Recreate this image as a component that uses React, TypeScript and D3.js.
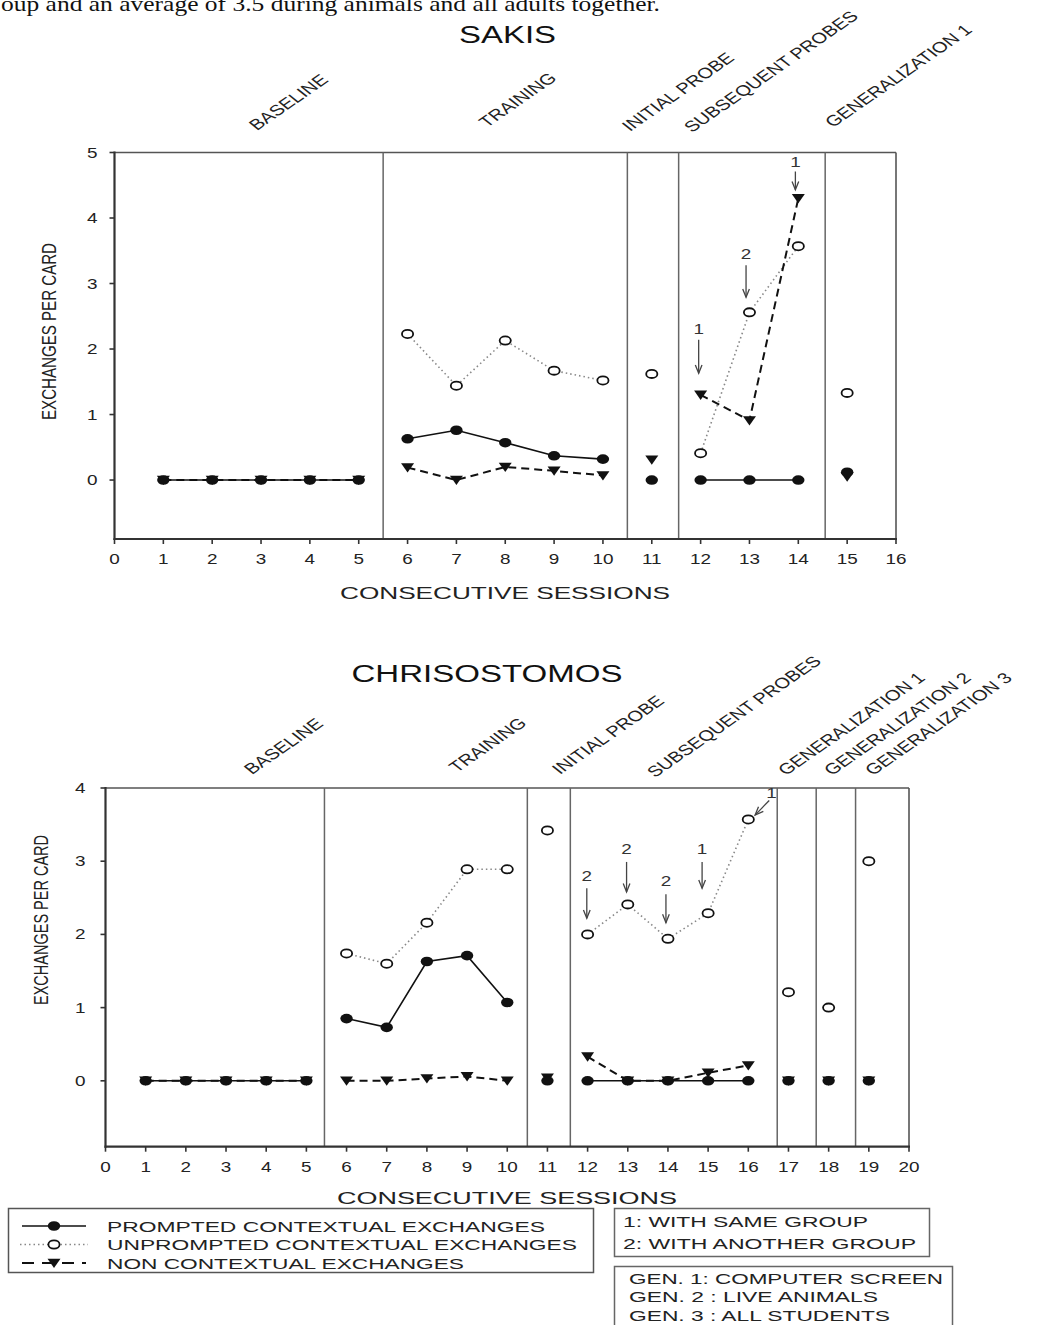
import React from "react";
import * as d3 from "d3";

// ---------- DATA ----------
const introLine = "oup and an average of 3.5 during animals and all adults together.";

const sakisTitle = "SAKIS";
const sakisSessions = [1, 2, 3, 4, 5, 6, 7, 8, 9, 10, 11, 12, 13, 14, 15];
const sakisPrompted = [0, 0, 0, 0, 0, 0.63, 0.76, 0.57, 0.37, 0.32, 0, 0, 0, 0, 0.12];
const sakisUnprompted = [null, null, null, null, null, 2.23, 1.44, 2.13, 1.67, 1.52, 1.62, 0.41, 2.56, 3.57, 1.33];
const sakisNonContextual = [0, 0, 0, 0, 0, 0.19, 0, 0.2, 0.14, 0.07, 0.31, 1.3, 0.91, 4.3, 0.05];
const sakisPhaseNames = ["BASELINE", "TRAINING", "INITIAL PROBE", "SUBSEQUENT PROBES", "GENERALIZATION 1"];
const sakisPhaseRanges = [[1, 5], [6, 10], [11, 11], [12, 14], [15, 15]];
const sakisPhaseBreaks = [5.5, 10.5, 11.55, 14.55];
const sakisXTicks = [0, 1, 2, 3, 4, 5, 6, 7, 8, 9, 10, 11, 12, 13, 14, 15, 16];
const sakisYTicks = [0, 1, 2, 3, 4, 5];
const sakisArrows = [
  { label: "1", tipS: 11.96, tipV: 1.63, tailS: 11.96, tailV: 2.14, labelS: 11.96, labelV: 2.3 },
  { label: "2", tipS: 12.93, tipV: 2.79, tailS: 12.93, tailV: 3.28, labelS: 12.93, labelV: 3.45 },
  { label: "1", tipS: 13.94, tipV: 4.43, tailS: 13.94, tailV: 4.71, labelS: 13.94, labelV: 4.86 },
];

const chrisTitle = "CHRISOSTOMOS";
const chrisSessions = [1, 2, 3, 4, 5, 6, 7, 8, 9, 10, 11, 12, 13, 14, 15, 16, 17, 18, 19];
const chrisPrompted = [0, 0, 0, 0, 0, 0.85, 0.73, 1.63, 1.71, 1.07, 0, 0, 0, 0, 0, 0, 0, 0, 0];
const chrisUnprompted = [null, null, null, null, null, 1.74, 1.6, 2.16, 2.89, 2.89, 3.42, 2.0, 2.41, 1.94, 2.29, 3.57, 1.21, 1.0, 3.0];
const chrisNonContextual = [0, 0, 0, 0, 0, 0, 0, 0.03, 0.06, 0, 0.04, 0.33, 0, 0, 0.11, 0.21, 0, 0, 0];
const chrisPhaseNames = ["BASELINE", "TRAINING", "INITIAL PROBE", "SUBSEQUENT PROBES", "GENERALIZATION 1", "GENERALIZATION 2", "GENERALIZATION 3"];
const chrisPhaseRanges = [[1, 5], [6, 10], [11, 11], [12, 16], [17, 17], [18, 18], [19, 19]];
const chrisPhaseBreaks = [5.45, 10.5, 11.57, 16.72, 17.69, 18.67];
const chrisXTicks = [0, 1, 2, 3, 4, 5, 6, 7, 8, 9, 10, 11, 12, 13, 14, 15, 16, 17, 18, 19, 20];
const chrisYTicks = [0, 1, 2, 3, 4];
const chrisArrows = [
  { label: "2", tipS: 11.98, tipV: 2.22, tailS: 11.98, tailV: 2.63, labelS: 11.98, labelV: 2.8 },
  { label: "2", tipS: 12.97, tipV: 2.58, tailS: 12.97, tailV: 2.99, labelS: 12.97, labelV: 3.17 },
  { label: "2", tipS: 13.95, tipV: 2.16, tailS: 13.95, tailV: 2.55, labelS: 13.95, labelV: 2.73 },
  { label: "1", tipS: 14.85, tipV: 2.63, tailS: 14.85, tailV: 2.99, labelS: 14.85, labelV: 3.17 },
  { label: "1", tipS: 16.17, tipV: 3.63, tailS: 16.52, tailV: 3.83, labelS: 16.58, labelV: 3.93 },
];

const xAxisTitle = "CONSECUTIVE SESSIONS";
const yAxisTitle = "EXCHANGES PER CARD";
const seriesLegend = ["PROMPTED CONTEXTUAL EXCHANGES", "UNPROMPTED CONTEXTUAL EXCHANGES", "NON CONTEXTUAL EXCHANGES"];
const arrowLegend = ["1: WITH SAME GROUP", "2: WITH ANOTHER GROUP"];
const genLegend = ["GEN. 1: COMPUTER SCREEN", "GEN. 2 : LIVE ANIMALS", "GEN. 3 : ALL STUDENTS"];

// ---------- LAYOUT ----------
const FONT = "'Liberation Sans', Arial, sans-serif";
const SX = 1.35;
const INK = "#111";

const sakisLayout = {
  xRange: [114.5, 896], yRange: [539, 152.5], yDomain: [-0.9, 5], xDomain: [0, 16],
  titleX: 507.5, titleY: 43, titleW: 97,
  phaseLabelPos: [[257, 131], [487, 128], [630, 132], [692, 133], [833, 128]],
  xTitle: [505, 599, 330], yTitle: [56, 331.5, 177], yTickGap: 17,
};
const chrisLayout = {
  xRange: [105.5, 909], yRange: [1146.7, 788], yDomain: [-0.9, 4], xDomain: [0, 20],
  titleX: 487, titleY: 682, titleW: 271,
  phaseLabelPos: [[252, 775], [457, 773], [560, 775], [655, 778], [786, 776], [832, 776], [873, 776]],
  xTitle: [507, 1203.5, 340], yTitle: [48, 920, 170], yTickGap: 20,
};

function STxt({ x, y, size, anchor = "middle", sx = SX, rot = 0, children, fill = INK }: any) {
  return (
    <text
      transform={`translate(${x},${y}) scale(${sx},1) rotate(${rot})`}
      textAnchor={anchor}
      fontSize={size}
      fontFamily={FONT}
      fill={fill}
    >
      {children}
    </text>
  );
}

function FilledCircle({ cx, cy }: any) {
  return <ellipse cx={cx} cy={cy} rx={6.2} ry={4.8} fill={INK} />;
}
function OpenCircle({ cx, cy }: any) {
  return <ellipse cx={cx} cy={cy} rx={5.6} ry={4.1} fill="#fff" stroke={INK} strokeWidth={1.8} />;
}
function TriDown({ cx, cy }: any) {
  return <path d={`M${cx - 6.5},${cy - 4.3}L${cx + 6.5},${cy - 4.3}L${cx},${cy + 5}Z`} fill={INK} />;
}

function Arrow({ x1, y1, x2, y2 }: any) {
  const ang = Math.atan2(y2 - y1, x2 - x1);
  const L = 9;
  const a1 = ang + Math.PI - 0.38;
  const a2 = ang + Math.PI + 0.38;
  return (
    <g stroke="#444" strokeWidth={1.3} fill="none">
      <line x1={x1} y1={y1} x2={x2} y2={y2} />
      <path d={`M${x2 + L * Math.cos(a1)},${y2 + L * Math.sin(a1)}L${x2},${y2}L${x2 + L * Math.cos(a2)},${y2 + L * Math.sin(a2)}`} />
    </g>
  );
}

const dotted = { stroke: "#888", strokeWidth: 1.6, strokeDasharray: "1.5,3", fill: "none" };
const dashed = { stroke: INK, strokeWidth: 2, strokeDasharray: "8,5", fill: "none" };
const solid = { stroke: INK, strokeWidth: 1.6, fill: "none" };

function Panel({ L, title, sessions, prompted, unprompted, nonctx, phaseNames, ranges, breaks, xTicks, yTicks, arrows }: any) {
  const x = d3.scaleLinear().domain(L.xDomain).range(L.xRange);
  const y = d3.scaleLinear().domain(L.yDomain).range(L.yRange);
  const [x0, x1] = L.xRange;
  const [yb, yt] = L.yRange;
  const pts = (vals: any[]) => sessions.map((s: number, i: number) => ({ s, v: vals[i] })).filter((d: any) => d.v != null);
  const line = d3.line<any>().x((d) => x(d.s)).y((d) => y(d.v));
  const segs = (vals: any[]) =>
    ranges.map(([a, b]: number[]) => pts(vals).filter((d: any) => d.s >= a && d.s <= b)).filter((g: any[]) => g.length > 1);

  return (
    <g>
      <text x={L.titleX} y={L.titleY} textAnchor="middle" fontSize={23} fontFamily={FONT} fill={INK}
        textLength={L.titleW} lengthAdjust="spacingAndGlyphs">{title}</text>
      {phaseNames.map((n: string, i: number) => (
        <STxt key={n} x={L.phaseLabelPos[i][0]} y={L.phaseLabelPos[i][1]} size={15} anchor="start" rot={-43} fill="#222">{n}</STxt>
      ))}
      {/* frame */}
      <line x1={x0} x2={x1} y1={yt} y2={yt} stroke="#555" strokeWidth={1.6} />
      <line x1={x1} x2={x1} y1={yt} y2={yb} stroke="#555" strokeWidth={1.6} />
      {breaks.map((b: number) => (
        <line key={b} x1={x(b)} x2={x(b)} y1={yt} y2={yb} stroke="#666" strokeWidth={1.5} />
      ))}
      <line x1={x0} x2={x0} y1={yt - 1} y2={yb + 1} stroke="#333" strokeWidth={2.2} />
      <line x1={x0 - 1} x2={x1 + 1} y1={yb} y2={yb} stroke="#333" strokeWidth={2.2} />
      {xTicks.map((t: number) => (
        <g key={t}>
          <line x1={x(t)} x2={x(t)} y1={yb} y2={yb + 5} stroke="#333" strokeWidth={1.6} />
          <STxt x={x(t)} y={yb + 25} size={14} fill="#222">{t}</STxt>
        </g>
      ))}
      {yTicks.map((t: number) => (
        <g key={t}>
          <line x1={x0 - 5} x2={x0} y1={y(t)} y2={y(t)} stroke="#333" strokeWidth={1.6} />
          <STxt x={x0 - L.yTickGap} y={y(t) + 5} size={14} anchor="end" fill="#222">{t}</STxt>
        </g>
      ))}
      <text x={L.xTitle[0]} y={L.xTitle[1]} textAnchor="middle" fontSize={16.5} fontFamily={FONT} fill="#222"
        textLength={L.xTitle[2]} lengthAdjust="spacingAndGlyphs">{xAxisTitle}</text>
      <text transform={`translate(${L.yTitle[0]},${L.yTitle[1]}) scale(${SX},1) rotate(-90)`} textAnchor="middle"
        fontSize={15} fontFamily={FONT} fill="#222" textLength={L.yTitle[2]} lengthAdjust="spacingAndGlyphs">{yAxisTitle}</text>

      {/* lines */}
      {segs(unprompted).map((g: any[], i: number) => <path key={"u" + i} d={line(g) as string} style={dotted as any} />)}
      {segs(nonctx).map((g: any[], i: number) => <path key={"n" + i} d={line(g) as string} {...dashed} />)}
      {segs(prompted).map((g: any[], i: number) => <path key={"p" + i} d={line(g) as string} {...solid} />)}
      {/* markers */}
      {pts(nonctx).map((d: any) => <TriDown key={"tn" + d.s} cx={x(d.s)} cy={y(d.v)} />)}
      {pts(prompted).map((d: any) => <FilledCircle key={"cp" + d.s} cx={x(d.s)} cy={y(d.v)} />)}
      {pts(unprompted).map((d: any) => <OpenCircle key={"ou" + d.s} cx={x(d.s)} cy={y(d.v)} />)}
      {/* arrows */}
      {arrows.map((a: any, i: number) => (
        <g key={"a" + i}>
          <Arrow x1={x(a.tailS)} y1={y(a.tailV)} x2={x(a.tipS)} y2={y(a.tipV)} />
          <STxt x={x(a.labelS)} y={y(a.labelV) + 5} size={14} fill="#333">{a.label}</STxt>
        </g>
      ))}
    </g>
  );
}

export default function App() {
  return (
    <div style={{ position: "absolute", left: 0, top: 0, width: 1038, height: 1325, background: "#fff" }}>
      <svg width={1038} height={1325} viewBox="0 0 1038 1325" style={{ display: "block" }}>
        <rect width={1038} height={1325} fill="#fff" />
        <text x={1} y={11} fontSize={22} fontFamily="'Liberation Serif', 'Times New Roman', serif" fill="#111"
          textLength={659} lengthAdjust="spacingAndGlyphs">{introLine}</text>

        <Panel L={sakisLayout} title={sakisTitle} sessions={sakisSessions} prompted={sakisPrompted}
          unprompted={sakisUnprompted} nonctx={sakisNonContextual} phaseNames={sakisPhaseNames}
          ranges={sakisPhaseRanges} breaks={sakisPhaseBreaks} xTicks={sakisXTicks} yTicks={sakisYTicks} arrows={sakisArrows} />
        <Panel L={chrisLayout} title={chrisTitle} sessions={chrisSessions} prompted={chrisPrompted}
          unprompted={chrisUnprompted} nonctx={chrisNonContextual} phaseNames={chrisPhaseNames}
          ranges={chrisPhaseRanges} breaks={chrisPhaseBreaks} xTicks={chrisXTicks} yTicks={chrisYTicks} arrows={chrisArrows} />

        {/* series legend */}
        <rect x={8.5} y={1208.5} width={585} height={64} fill="#fff" stroke="#555" strokeWidth={1.5} />
        {seriesLegend.map((s, i) => {
          const cy = 1226 + i * 18.5;
          const widths = [438, 470, 357];
          return (
            <g key={s}>
              {i === 0 && <line x1={22} x2={86} y1={cy} y2={cy} {...solid} />}
              {i === 1 && <line x1={20} x2={88} y1={cy} y2={cy} style={dotted as any} />}
              {i === 2 && <line x1={22} x2={86} y1={cy} y2={cy} {...dashed} strokeDasharray="12,8" />}
              {i === 0 && <FilledCircle cx={54} cy={cy} />}
              {i === 1 && <OpenCircle cx={54} cy={cy} />}
              {i === 2 && <TriDown cx={54} cy={cy} />}
              <text x={107} y={cy + 5.5} fontSize={15} fontFamily={FONT} fill="#222" textLength={widths[i]}
                lengthAdjust="spacingAndGlyphs">{s}</text>
            </g>
          );
        })}

        {/* arrow legend */}
        <rect x={614.5} y={1208.5} width={315} height={48} fill="#fff" stroke="#666" strokeWidth={1.5} />
        {arrowLegend.map((s, i) => (
          <text key={s} x={623} y={1226.5 + i * 22.5} fontSize={15.5} fontFamily={FONT} fill="#222"
            textLength={[245, 293][i]} lengthAdjust="spacingAndGlyphs">{s}</text>
        ))}
        <rect x={614.5} y={1266.5} width={338} height={70} fill="#fff" stroke="#666" strokeWidth={1.5} />
        {genLegend.map((s, i) => (
          <text key={s} x={629} y={1283.5 + i * 18.7} fontSize={15.5} fontFamily={FONT} fill="#222"
            textLength={[314, 249, 261][i]} lengthAdjust="spacingAndGlyphs">{s}</text>
        ))}
      </svg>
    </div>
  );
}
